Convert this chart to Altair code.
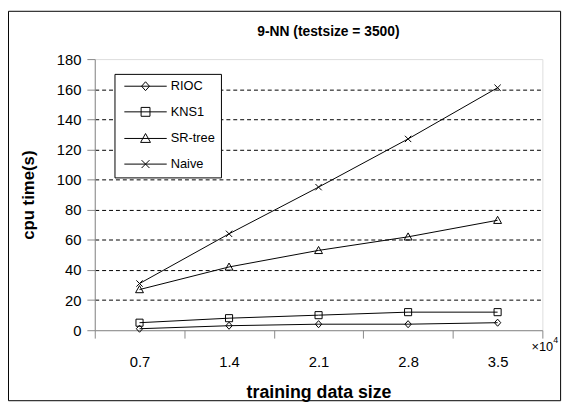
import altair as alt
import pandas as pd

# ---- data ----
sizes = ["0.7", "1.4", "2.1", "2.8", "3.5"]
series = ["RIOC", "KNS1", "SR-tree", "Naive"]
rioc = [1, 3, 4, 4, 5]
kns1 = [5, 8, 10, 12, 12]
srtree = [27, 42, 53, 62, 73]
naive = [31, 64, 95, 127, 161]
y_ticks = [0, 20, 40, 60, 80, 100, 120, 140, 160, 180]
chart_title = "9-NN (testsize = 3500)"
exp_base = "×10"
exp_power = "4"

rows = []
for name, vals in zip(series, [rioc, kns1, srtree, naive]):
    for s, v in zip(sizes, vals):
        rows.append({"size": s, "series": name, "time": v})
df = pd.DataFrame(rows)

W, H = 454, 275
FONT = "Liberation Sans"

# marker shapes (plot) and legend symbols (line through marker)
plot_paths = [
    "M0,-0.9L0.8,0L0,0.9L-0.8,0Z",
    "M-0.9,-0.9H0.9V0.9H-0.9Z",
    "M0,-1L1,0.8L-1,0.8Z",
    "M-0.8,-0.8L0.8,0.8M-0.8,0.8L0.8,-0.8",
]
L = "M-4.3,0L4.3,0"
legend_paths = [L + p for p in plot_paths]

x_enc = alt.X(
    "size:O",
    sort=sizes,
    scale=alt.Scale(type="band", paddingInner=0, paddingOuter=0),
    axis=alt.Axis(
        title="training data size",
        tickBand="extent",
        labelAngle=0,
        grid=False,
        tickSize=8,
        labelPadding=17,
        labelFontSize=15,
        titleFontSize=18,
        titlePadding=14,
    ),
)
y_enc = alt.Y(
    "time:Q",
    scale=alt.Scale(domain=[0, 180], nice=False, zero=True),
    axis=alt.Axis(
        title="cpu time(s)",
        values=y_ticks,
        grid=True,
        gridColor="black",
        gridDash=[4, 3],
        gridWidth=1,
        gridOpacity={
            "condition": {"test": "datum.value === 0 || datum.value === 180", "value": 0},
            "value": 1,
        },
        tickSize=8,
        labelPadding=6,
        labelFontSize=15,
        titleFontSize=17,
        titlePadding=19,
    ),
)

base = alt.Chart(df)

lines = base.mark_line(color="black", strokeWidth=1).encode(
    x=x_enc, y=y_enc, detail="series:N"
)

points = base.mark_point(filled=False, color="black", size=64, strokeWidth=1, opacity=1).encode(
    x=x_enc,
    y=y_enc,
    shape=alt.Shape("series:N", scale=alt.Scale(domain=series, range=plot_paths), legend=None),
)

legend_pts = base.mark_point(filled=False, color="black", size=64, strokeWidth=1, opacity=0).encode(
    x=x_enc,
    y=y_enc,
    shape=alt.Shape(
        "series:N",
        scale=alt.Scale(domain=series, range=legend_paths),
        legend=alt.Legend(
            title=None,
            orient="none",
            legendX=20,
            legendY=15,
            symbolOpacity=1,
            symbolStrokeColor="black",
            symbolStrokeWidth=1,
            symbolOffset=19,
            labelFont=FONT,
            labelFontSize=13,
            labelColor="black",
            labelOffset=19,
            rowPadding=12,
            padding=6,
            strokeColor="black",
            fillColor="white",
        ),
    ),
)

one = pd.DataFrame({"k": [0]})

frame = alt.Chart(one).mark_rect(
    fillOpacity=0, stroke="black", strokeWidth=1
).encode(
    x=alt.value(-87.5), x2=alt.value(472.5), y=alt.value(-48.5), y2=alt.value(346.5)
)

title_text = alt.Chart(one).mark_text(
    align="center", baseline="middle", font=FONT, fontSize=14, fontWeight="bold", color="black"
).encode(x=alt.value(W / 2 + 10), y=alt.value(-27), text=alt.value(chart_title))

exp_text = alt.Chart(one).mark_text(
    align="left", baseline="middle", font=FONT, fontSize=13, color="black"
).encode(x=alt.value(W - 11), y=alt.value(H + 17), text=alt.value(exp_base))

exp_pow = alt.Chart(one).mark_text(
    align="left", baseline="middle", font=FONT, fontSize=9, color="black"
).encode(x=alt.value(W + 11), y=alt.value(H + 10), text=alt.value(exp_power))

chart = (
    alt.layer(lines, points, legend_pts, exp_text, exp_pow, title_text, frame)
    .resolve_scale(shape="independent")
    .properties(
        width=W,
        height=H,
        autosize=alt.AutoSizeParams(type="none"),
        padding={"left": 88, "top": 49, "right": 26, "bottom": 72},
    )
    .configure_view(stroke="#808080", strokeWidth=1)
    .configure_axis(
        domainColor="black",
        tickColor="black",
        labelColor="black",
        titleColor="black",
        labelFont=FONT,
        titleFont=FONT,
        titleFontWeight="bold",
    )
    .configure(background="white")
)

chart.save("out.html", embed_options={"renderer": "svg", "actions": False})
